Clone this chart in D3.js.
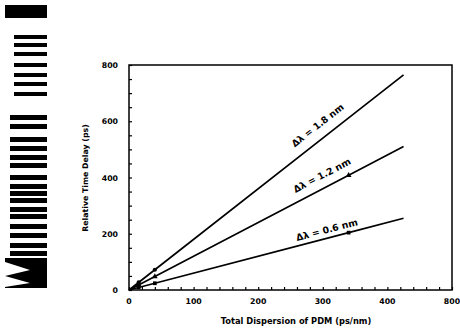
<!DOCTYPE html>
<html><head><meta charset="utf-8">
<script src="https://cdn.jsdelivr.net/npm/d3@7"></script>
<style>body{margin:0;background:#fff}svg{display:block}text{font-family:"DejaVu Sans",sans-serif;font-weight:bold;fill:#000}</style>
</head><body>
<script>
// data
const xTickValues = [0, 100, 200, 300, 400, 500];
const xTickLabels = ["0", "100", "200", "300", "400", "800"];
const yTickValues = [0, 200, 400, 600, 800];
const seriesNames = ["Δλ = 1.8 nm", "Δλ = 1.2 nm", "Δλ = 0.6 nm"];
const lineX = [0, 40, 340, 425];
const delay18 = [0, 72, 612, 765];
const delay12 = [0, 48, 408, 510];
const delay06 = [0, 24, 204, 255];
const markerX18 = [15, 40];
const markerY18 = [27, 72];
const markerX12 = [15, 40, 340];
const markerY12 = [18, 48, 408];
const markerX06 = [15, 40, 340];
const markerY06 = [9, 24, 204];
const labelX = [266, 264, 262];
const labelOffset = [-10, -9, -5];

const W = 460, H = 332;
const svg = d3.select("body").append("svg").attr("width", W).attr("height", H);
const m = {l: 129, r: 452, t: 65, b: 290};
const x = d3.scaleLinear().domain([0, 500]).range([m.l, m.r]);
const y = d3.scaleLinear().domain([0, 800]).range([m.b, m.t]);

// scan artifact at left edge (decorative)
const art = svg.append("g").attr("fill", "#000");
art.append("rect").attr("x", 5).attr("y", 5).attr("width", 42).attr("height", 13);
const thinBars = [35, 43, 52, 63, 73, 82, 92];
thinBars.forEach(v => art.append("rect").attr("x", 14).attr("y", v).attr("width", 33).attr("height", 4));
const lowBars = [115, 124, 137, 146, 155, 163, 175, 184, 191, 198, 207, 214, 224, 233, 243, 251];
lowBars.forEach(v => art.append("rect").attr("x", 10).attr("y", v).attr("width", 37).attr("height", 5));
art.append("rect").attr("x", 5).attr("y", 258).attr("width", 42).attr("height", 30);
art.append("path").attr("d", "M5,262 L30,270 L5,276 L30,283 L5,287 Z").attr("fill", "#fff");

// frame
svg.append("rect").attr("x", m.l).attr("y", m.t).attr("width", m.r - m.l).attr("height", m.b - m.t)
  .attr("fill", "none").attr("stroke", "#000").attr("stroke-width", 1.5);

// ticks (inward)
const xa = svg.append("g").attr("transform", `translate(0,${m.b})`)
  .call(d3.axisBottom(x).tickValues(d3.range(0, 501, 20)).tickSize(-3).tickFormat(""));
xa.select(".domain").remove();
const ya = svg.append("g").attr("transform", `translate(${m.l},0)`)
  .call(d3.axisLeft(y).tickValues(d3.range(0, 801, 50)).tickSize(-3).tickFormat(""));
ya.select(".domain").remove();
svg.selectAll(".tick line").attr("stroke", "#000").attr("stroke-width", 1.2);

// tick labels
svg.append("g").selectAll("text").data(xTickValues).join("text")
  .attr("x", d => x(d)).attr("y", m.b + 14).attr("text-anchor", "middle")
  .attr("font-size", 7.8).text((d, i) => xTickLabels[i]);
svg.append("g").selectAll("text").data(yTickValues).join("text")
  .attr("x", m.l - 11).attr("y", d => y(d) + 3).attr("text-anchor", "end")
  .attr("font-size", 7.8).text(d => d);

// axis titles
svg.append("text").attr("x", 296).attr("y", 324).attr("text-anchor", "middle")
  .attr("font-size", 8.3).text("Total Dispersion of PDM  (ps/nm)");
svg.append("text").attr("transform", "translate(88,178) rotate(-90)").attr("text-anchor", "middle")
  .attr("font-size", 7.8).text("Relative Time Delay (ps)");

// lines
const series = [delay18, delay12, delay06];
const line = d3.line().x((d, i) => x(lineX[i])).y(d => y(d));
series.forEach(s => svg.append("path").datum(s).attr("d", line)
  .attr("fill", "none").attr("stroke", "#000").attr("stroke-width", 1.7));

// markers
const mk = [[markerX18, markerY18, d3.symbolCircle], [markerX12, markerY12, d3.symbolTriangle], [markerX06, markerY06, d3.symbolSquare]];
mk.forEach(([mx, my, sym]) => {
  svg.append("g").selectAll("path").data(mx).join("path")
    .attr("transform", (d, i) => `translate(${x(d)},${y(my[i])})`)
    .attr("d", d3.symbol().type(sym).size(14)).attr("fill", "#000");
});

// line labels rotated along lines
series.forEach((s, k) => {
  const x0 = x(lineX[0]), y0 = y(s[0]), x1 = x(lineX[3]), y1 = y(s[3]);
  const ang = Math.atan2(y1 - y0, x1 - x0) * 180 / Math.PI;
  const lx = labelX[k];
  const ly = s[3] * lx / lineX[3];
  svg.append("text").attr("transform", `translate(${x(lx)},${y(ly)}) rotate(${ang})`)
    .attr("dy", labelOffset[k]).attr("font-size", 9.3).text(seriesNames[k]);
});
</script>
</body></html>
